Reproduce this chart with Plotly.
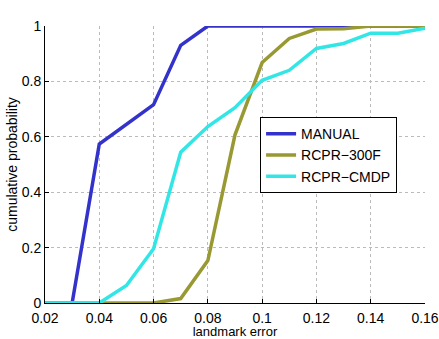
import plotly.graph_objects as go

err = [0.02, 0.03, 0.04, 0.05, 0.06, 0.07, 0.08, 0.09, 0.10, 0.11, 0.12, 0.13, 0.14, 0.15, 0.16]
manual = [0, 0, 0.574, 0.645, 0.716, 0.93, 1, 1, 1, 1, 1, 1, 1, 1, 1]
rcpr_300f = [0, 0, 0, 0, 0, 0.016, 0.153, 0.607, 0.868, 0.955, 0.989, 0.99, 1, 1, 1]
rcpr_cmdp = [0, 0, 0, 0.063, 0.196, 0.544, 0.637, 0.705, 0.804, 0.84, 0.919, 0.937, 0.974, 0.974, 0.992]

names = ["MANUAL", "RCPR\u2212300F", "RCPR\u2212CMDP"]
colors = ["#3333CC", "#999933", "#33E6E6"]
series = [manual, rcpr_300f, rcpr_cmdp]

x_ticks = [0.02, 0.04, 0.06, 0.08, 0.1, 0.12, 0.14, 0.16]
x_labels = ["0.02", "0.04", "0.06", "0.08", "0.1", "0.12", "0.14", "0.16"]
y_ticks = [0, 0.2, 0.4, 0.6, 0.8, 1]
y_labels = ["0", "0.2", "0.4", "0.6", "0.8", "1"]

fig = go.Figure()
for n, c, s in zip(names, colors, series):
    fig.add_trace(go.Scatter(x=err, y=s, mode="lines", name=n,
                             line=dict(color=c, width=3.5)))

font = "Liberation Sans, Arial, Helvetica, sans-serif"
fig.update_layout(
    width=439, height=339,
    margin=dict(l=45, r=14, t=26, b=36),
    paper_bgcolor="white", plot_bgcolor="white",
    font=dict(family=font, size=14, color="black"),
    showlegend=True,
    legend=dict(x=0.566, y=0.671, xanchor="left", yanchor="top",
                bgcolor="white", bordercolor="black", borderwidth=1,
                font=dict(size=14, family=font), tracegroupgap=0,
                itemwidth=30),
    xaxis=dict(range=[0.02, 0.16], tickvals=x_ticks, ticktext=x_labels,
               showline=True, linecolor="black", linewidth=1,
               ticks="inside", ticklen=4, tickcolor="black",
               showgrid=True, gridcolor="#BBBBBB", griddash="dot", gridwidth=1,
               zeroline=False, automargin=False, ticklabelstandoff=2,
               title=dict(text="landmark error", font=dict(size=13), standoff=5)),
    yaxis=dict(range=[0, 1], tickvals=y_ticks, ticktext=y_labels,
               showline=True, linecolor="black", linewidth=1,
               ticks="inside", ticklen=4, tickcolor="black",
               showgrid=True, gridcolor="#BBBBBB", griddash="dot", gridwidth=1,
               zeroline=False, automargin=False,
               title=dict(text="cumulative probability", font=dict(size=14), standoff=0)),
)
fig.write_html("out.html")
